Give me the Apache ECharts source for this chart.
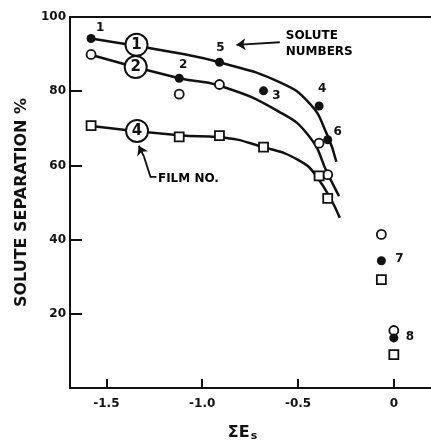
<!DOCTYPE html>
<html>
<head>
<meta charset="utf-8">
<script src="https://cdn.jsdelivr.net/npm/echarts@6/dist/echarts.min.js"></script>
<style>
  html, body { margin: 0; padding: 0; background: #fff; }
  #chart { width: 431px; height: 447px; }
</style>
</head>
<body>
<div id="chart"></div>
<script>
// solute numbers, in the order of their sigma Es value
const soluteNos = ['1', '2', '5', '3', '4', '6', '7', '8']
const sigmaEs = [-1.58, -1.12, -0.91, -0.68, -0.39, -0.345, -0.065, 0]

// solute separation % for each film
const film1 = [94.2, 83.5, 87.8, 80.1, 76.0, 66.9, 34.3, 13.5]
const film2 = [89.9, 79.2, 81.8, null, 66.0, 57.5, 41.4, 15.5]
const film4 = [70.7, 67.7, 68.0, 64.9, 57.2, 51.1, 29.2, 9.0]

// hand drawn trend curves
const curve1 = [[-1.58, 94.2], [-1.1, 90.0], [-0.91, 87.8], [-0.6, 82.5], [-0.44, 76.7], [-0.35, 68.5], [-0.30, 61.0]]
const curve2 = [[-1.587, 89.9], [-1.12, 83.5], [-0.91, 81.5], [-0.6, 74.5], [-0.44, 67.7], [-0.343, 57.5], [-0.286, 51.7]]
const curve4 = [[-1.59, 70.7], [-1.12, 68.1], [-0.91, 67.6], [-0.68, 64.9], [-0.5, 61.5], [-0.40, 56.8], [-0.282, 45.9]]

// film number tags sitting on the curves
const filmTags = [['1', -1.343, 92.5], ['2', -1.347, 86.5], ['4', -1.34, 69.3]]

// axis ticks
const xTicks = [-1.5, -1.0, -0.5, 0]
const yTicks = [20, 40, 60, 80, 100]

// pixel offsets of the solute number next to each filled dot
const soluteLabelOffsets = [[9, -11], [4, -13], [1, -14], [13, 5], [3, -17], [10, -8], [18, -2], [16, -1]]

const FONT = 'DejaVu Sans'
const INK = '#111'

const chart = echarts.init(document.getElementById('chart'))

function pairs(ys) {
  return sigmaEs.map((x, i) => [x, ys[i]]).filter(p => p[1] != null)
}

function curveSeries(data) {
  return {
    type: 'line',
    data: data,
    smooth: 0.5,
    symbol: 'none',
    silent: true,
    z: 2,
    lineStyle: { color: INK, width: 2.5 },
  }
}

const option = {
  animation: false,
  grid: { left: 70, right: 0, top: 17, bottom: 57 },
  xAxis: [
    {
      type: 'value',
      min: -1.69,
      max: 0.194,
      name: '{a|ΣE}{b|s}',
      nameLocation: 'middle',
      nameGap: 35,
      nameTextStyle: {
        padding: [0, 16, 0, 0],
        rich: {
          a: { fontFamily: FONT, fontWeight: 'bold', fontSize: 16, color: INK },
          b: { fontFamily: FONT, fontWeight: 'bold', fontSize: 11, color: INK, verticalAlign: 'bottom', padding: [8, 0, 0, 1] },
        },
      },
      axisLine: { show: true, onZero: false, lineStyle: { color: INK, width: 2 } },
      axisTick: { show: true, inside: true, length: 9, customValues: xTicks, lineStyle: { color: INK, width: 2 } },
      axisLabel: {
        customValues: xTicks,
        margin: 10,
        fontFamily: FONT,
        fontWeight: 'bold',
        fontSize: 12,
        color: INK,
        formatter: v => (v === 0 ? '0' : v.toFixed(1)),
      },
      splitLine: { show: false },
    },
    {
      type: 'value',
      position: 'top',
      min: -1.69,
      max: 0.194,
      axisLine: { show: true, onZero: false, lineStyle: { color: INK, width: 2 } },
      axisTick: { show: false },
      axisLabel: { show: false },
      splitLine: { show: false },
    },
  ],
  yAxis: {
    type: 'value',
    min: 0,
    max: 100,
    interval: 20,
    name: 'SOLUTE SEPARATION %',
    nameLocation: 'middle',
    nameGap: 40,
    nameTextStyle: { fontFamily: FONT, fontWeight: 'bold', fontSize: 16, color: INK },
    axisLine: { show: true, onZero: false, lineStyle: { color: INK, width: 2 } },
    axisTick: { show: true, inside: true, length: 12, customValues: yTicks, lineStyle: { color: INK, width: 2 } },
    axisLabel: {
      customValues: yTicks,
      margin: 4,
      fontFamily: FONT,
      fontWeight: 'bold',
      fontSize: 12,
      color: INK,
    },
    splitLine: { show: false },
  },
  series: [
    curveSeries(curve1),
    curveSeries(curve2),
    curveSeries(curve4),
    {
      // film 1: filled dots, labelled with the solute number
      type: 'scatter',
      data: pairs(film1),
      symbol: 'circle',
      symbolSize: 9,
      z: 5,
      itemStyle: { color: INK, opacity: 1 },
      label: {
        show: true,
        position: 'inside',
        fontFamily: FONT,
        fontWeight: 'bold',
        fontSize: 12,
        color: INK,
        formatter: p => soluteNos[p.dataIndex],
      },
      labelLayout: p => ({ dx: soluteLabelOffsets[p.dataIndex][0], dy: soluteLabelOffsets[p.dataIndex][1] }),
    },
    {
      // film 2: open circles
      type: 'scatter',
      data: pairs(film2),
      symbol: 'circle',
      symbolSize: 9,
      z: 4,
      itemStyle: { color: '#fff', borderColor: INK, borderWidth: 1.8, opacity: 1 },
    },
    {
      // film 4: open squares
      type: 'scatter',
      data: pairs(film4),
      symbol: 'rect',
      symbolSize: 9,
      z: 4,
      itemStyle: { color: '#fff', borderColor: INK, borderWidth: 1.8, opacity: 1 },
    },
    {
      // circled film numbers on the curves
      type: 'scatter',
      data: filmTags.map(t => ({ name: t[0], value: [t[1], t[2]] })),
      symbol: 'circle',
      symbolSize: 22,
      z: 6,
      itemStyle: { color: '#fff', borderColor: INK, borderWidth: 2, opacity: 1 },
      label: {
        show: true,
        position: 'inside',
        fontFamily: FONT,
        fontWeight: 'bold',
        fontSize: 15,
        color: INK,
        formatter: '{b}',
      },
    },
    {
      // callout texts
      type: 'scatter',
      silent: true,
      symbolSize: 0,
      itemStyle: { opacity: 1 },
      data: [
        { name: 'SOLUTE\nNUMBERS', value: [-0.564, 92.8] },
        { name: 'FILM NO.', value: [-1.231, 56.4] },
      ],
      label: {
        show: true,
        position: 'right',
        distance: 0,
        align: 'left',
        fontFamily: FONT,
        fontWeight: 'bold',
        fontSize: 12,
        lineHeight: 16,
        color: '#000',
        formatter: '{b}',
      },
    },
    {
      // callout leader without head
      type: 'lines',
      coordinateSystem: 'cartesian2d',
      polyline: true,
      silent: true,
      symbol: 'none',
      z: 3,
      lineStyle: { color: INK, width: 1.8, opacity: 1 },
      data: [
        { coords: [[-1.239, 56.9], [-1.27, 56.9], [-1.305, 62.5]] },
      ],
    },
    {
      // callout arrows
      type: 'lines',
      coordinateSystem: 'cartesian2d',
      silent: true,
      symbol: ['none', 'arrow'],
      symbolSize: 9,
      z: 3,
      lineStyle: { color: INK, width: 1.8, opacity: 1 },
      data: [
        { coords: [[-0.595, 93.2], [-0.821, 92.5]] },
        { coords: [[-1.305, 62.5], [-1.331, 65.3]] },
      ],
    },
  ],
}

chart.setOption(option)
</script>
</body>
</html>
